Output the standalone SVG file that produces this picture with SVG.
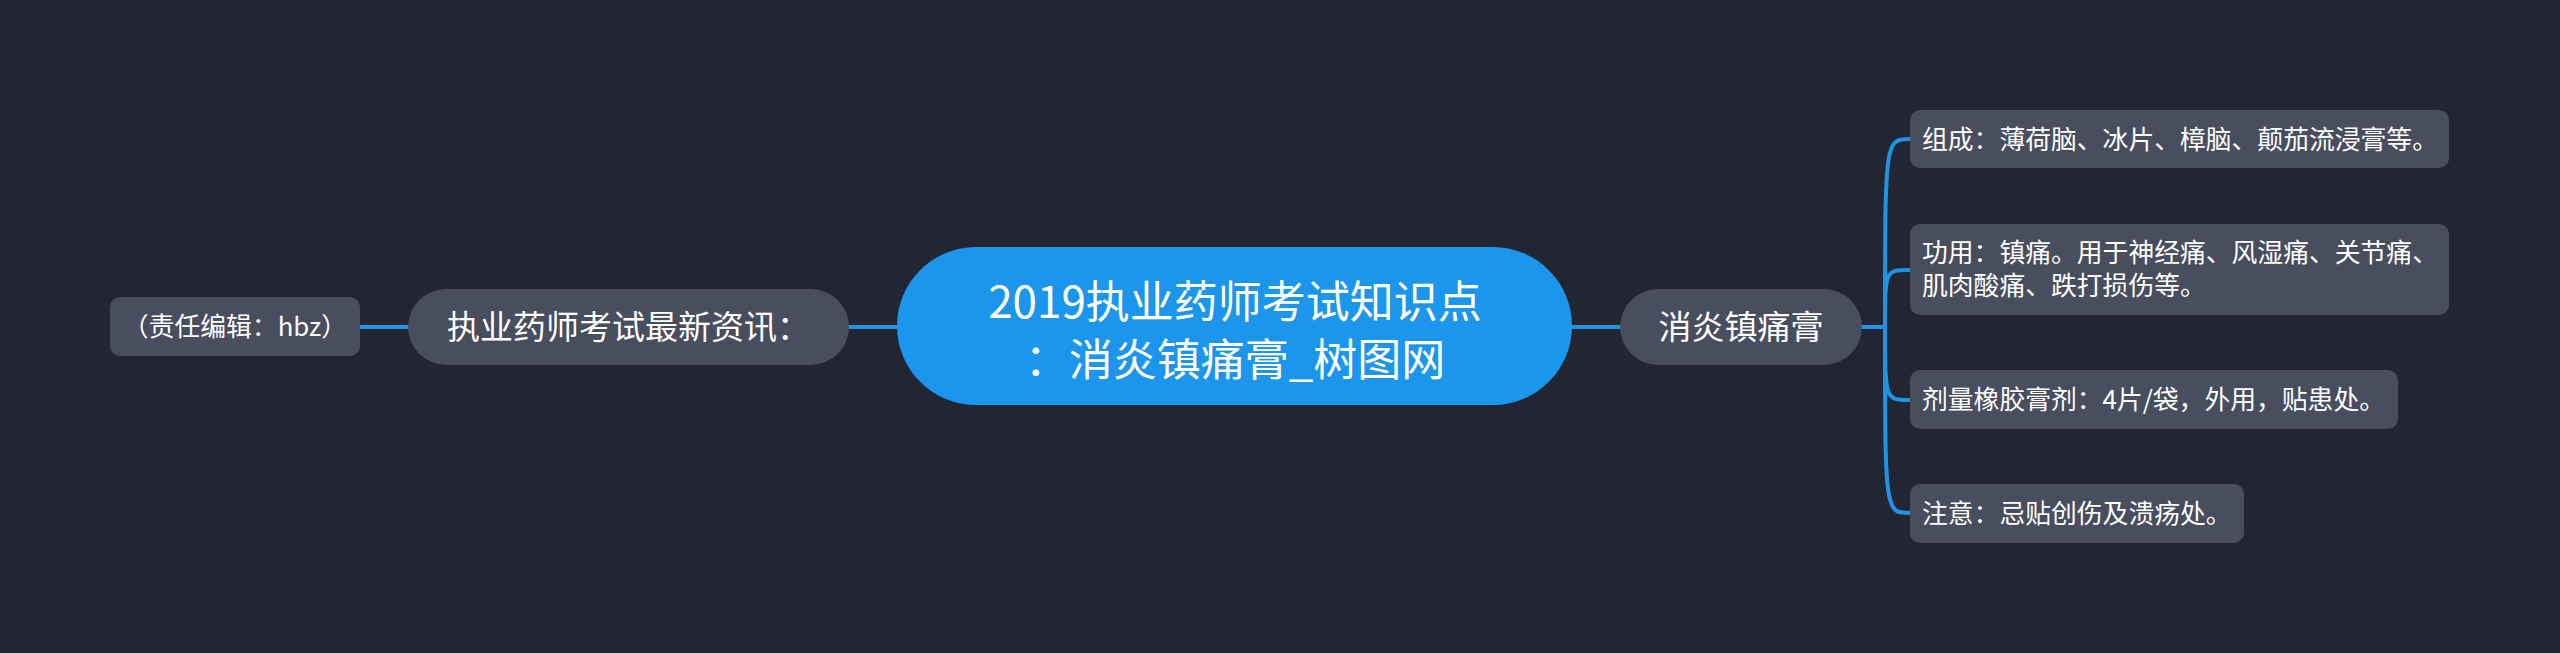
<svg xmlns="http://www.w3.org/2000/svg" width="2560" height="653" viewBox="0 0 2560 653">
<style>
.t{font-family:"Noto Sans CJK SC","Noto Sans",sans-serif;fill:#ffffff}
.node{fill:#484e5d}
.root{fill:#1b96ec}
.c{fill:none;stroke:#1e94e6;stroke-width:4;stroke-linecap:round}
.l{font-size:25.8px}
</style>
<rect x="0" y="0" width="2560" height="653" fill="#222632"/>
<g id="connectors">
<path class="c" d="M360 327 H408"/>
<path class="c" d="M849 327 H897"/>
<path class="c" d="M1572 327 H1620"/>
<path class="c" d="M1862 327 H1885"/>
<path class="c" d="M1885 327 C1885 139 1885 139 1910 139"/>
<path class="c" d="M1885 327 C1885 270 1885 270 1910 270"/>
<path class="c" d="M1885 327 C1885 400 1885 400 1910 400"/>
<path class="c" d="M1885 327 C1885 513 1885 513 1910 513"/>
</g>
<g id="root">
<rect class="root" x="897" y="247" width="675" height="158" rx="79"/>
<text class="t" x="1235" y="318" font-size="44" text-anchor="middle">2019执业药师考试知识点</text>
<text class="t" x="1235" y="376" font-size="44" text-anchor="middle">：消炎镇痛膏_树图网</text>
</g>
<g id="left-main">
<rect class="node" x="408" y="289" width="441" height="76" rx="38"/>
<text class="t" x="628.5" y="339" font-size="33" text-anchor="middle">执业药师考试最新资讯：</text>
</g>
<g id="left-leaf">
<rect class="node" x="110" y="297" width="250" height="59" rx="10"/>
<text class="t l" x="235" y="335.5" text-anchor="middle">（责任编辑：hbz）</text>
</g>
<g id="right-main">
<rect class="node" x="1620" y="289" width="242" height="76" rx="38"/>
<text class="t" x="1741" y="339" font-size="33" text-anchor="middle">消炎镇痛膏</text>
</g>
<g id="leaf1">
<rect class="node" x="1910" y="110" width="539" height="58" rx="10"/>
<text class="t l" x="1922" y="148.5">组成：薄荷脑、冰片、樟脑、颠茄流浸膏等。</text>
</g>
<g id="leaf2">
<rect class="node" x="1910" y="224" width="539" height="91" rx="10"/>
<text class="t l" x="1922" y="262">功用：镇痛。用于神经痛、风湿痛、关节痛、</text>
<text class="t l" x="1922" y="295">肌肉酸痛、跌打损伤等。</text>
</g>
<g id="leaf3">
<rect class="node" x="1910" y="370" width="488" height="59" rx="10"/>
<text class="t l" x="1922" y="409">剂量橡胶膏剂：4片/袋，外用，贴患处。</text>
</g>
<g id="leaf4">
<rect class="node" x="1910" y="484" width="334" height="59" rx="10"/>
<text class="t l" x="1922" y="522.5">注意：忌贴创伤及溃疡处。</text>
</g>
</svg>
